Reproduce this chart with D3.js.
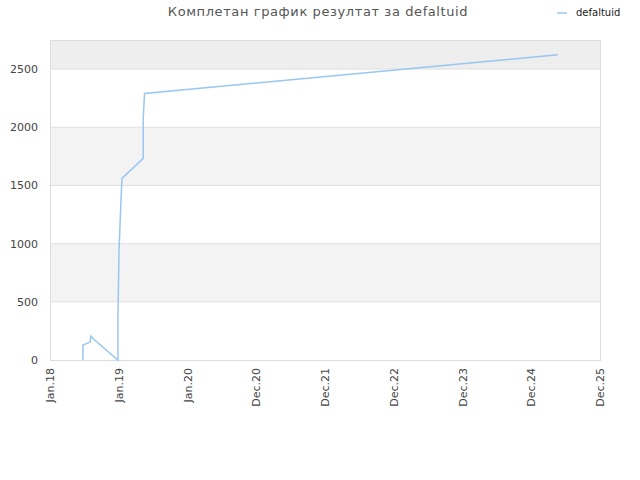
<!DOCTYPE html>
<html>
<head>
<meta charset="utf-8">
<script src="https://cdn.jsdelivr.net/npm/d3@7"></script>
<style>
  body { margin: 0; background: #fff; }
  text { font-family: "DejaVu Sans", sans-serif; }
</style>
</head>
<body>
<div id="chart"></div>
<script>
var title = "Комплетан график резултат за defaltuid",
    seriesName = "defaltuid";

// dates and cumulative result
var dates = ["2018-06-23", "2018-06-23", "2018-07-14", "2018-07-30", "2018-08-04", "2018-08-13",
             "2018-12-24", "2018-12-24", "2018-12-27", "2018-12-30", "2019-01-06", "2019-01-14",
             "2019-05-06", "2019-05-06", "2019-05-13", "2025-04-23"];
var values = [0, 129, 143, 152, 206, 186,
              0, 361, 662, 945, 1246, 1561,
              1733, 2076, 2291, 2623];

var xLabels = ["Jan.18", "Jan.19", "Jan.20", "Dec.20", "Dec.21", "Dec.22", "Dec.23", "Dec.24", "Dec.25"];
var yTicks = [0, 500, 1000, 1500, 2000, 2500];
var yMax = 2750;

var width = 640, height = 480,
    margin = {top: 40, right: 40, bottom: 120, left: 50},
    w = width - margin.left - margin.right,
    h = height - margin.top - margin.bottom;

var parse = d3.timeParse("%Y-%m-%d");
var data = dates.map(function (d, i) {
    return {date: parse(d), value: values[i]};
});

var svg = d3.select("#chart").append("svg")
    .attr("width", width)
    .attr("height", height);

var g = svg.append("g")
    .attr("transform", "translate(" + margin.left + "," + margin.top + ")");

var x = d3.scaleTime()
    .domain([parse("2018-01-01"), parse("2025-12-01")])
    .range([0, w]);

var xi = d3.scaleLinear()
    .domain([0, xLabels.length - 1])
    .range([0, w]);

var y = d3.scaleLinear()
    .domain([0, yMax])
    .range([h, 0]);

// alternating bands
var bands = yTicks.map(function (t, i) {
    return {from: t, to: i < yTicks.length - 1 ? yTicks[i + 1] : yMax, i: i};
});
g.selectAll(".band")
    .data(bands)
    .enter()
    .append("rect")
    .attr("class", "band")
    .attr("x", 0)
    .attr("width", w)
    .attr("y", function (d) { return y(d.to); })
    .attr("height", function (d) { return y(d.from) - y(d.to); })
    .attr("fill", function (d) {
        if (d.i % 2 == 0) return "#ffffff";
        return d.i == bands.length - 1 ? "#eeeeee" : "#f3f3f3";
    });

// grid lines
g.selectAll(".grid")
    .data(yTicks.slice(1))
    .enter()
    .append("line")
    .attr("x1", 0)
    .attr("x2", w)
    .attr("y1", function (d) { return y(d); })
    .attr("y2", function (d) { return y(d); })
    .attr("stroke", "#e0e0e0");

g.append("rect")
    .attr("x", 0.5)
    .attr("y", 0.5)
    .attr("width", w)
    .attr("height", h)
    .attr("fill", "none")
    .attr("stroke", "#dddddd");

// y labels
g.selectAll(".ylab")
    .data(yTicks)
    .enter()
    .append("text")
    .attr("x", -12)
    .attr("y", function (d) { return y(d) + 4; })
    .attr("text-anchor", "end")
    .attr("font-size", "11px")
    .attr("fill", "#444")
    .text(function (d) { return d; });

// x labels, rotated
g.selectAll(".xlab")
    .data(xLabels)
    .enter()
    .append("text")
    .attr("transform", function (d, i) {
        return "translate(" + (xi(i) + 4) + "," + (h + 8) + ") rotate(-90)";
    })
    .attr("text-anchor", "end")
    .attr("font-size", "11px")
    .attr("fill", "#444")
    .text(function (d) { return d; });

var line = d3.line()
    .x(function (d) { return x(d.date); })
    .y(function (d) { return y(d.value); });

g.append("path")
    .datum(data)
    .attr("d", line)
    .attr("fill", "none")
    .attr("stroke", "#99c6f2")
    .attr("stroke-width", 1.5);

// title
svg.append("text")
    .attr("x", 318)
    .attr("y", 16)
    .attr("text-anchor", "middle")
    .attr("font-size", "13px")
    .attr("letter-spacing", "0.6px")
    .attr("fill", "#555")
    .text(title);

// legend
svg.append("line")
    .attr("x1", 557)
    .attr("x2", 567)
    .attr("y1", 13)
    .attr("y2", 13)
    .attr("stroke", "#99c6f2")
    .attr("stroke-width", 1.5);

svg.append("text")
    .attr("x", 576)
    .attr("y", 16)
    .attr("font-size", "10px")
    .attr("fill", "#222")
    .text(seriesName);
</script>
</body>
</html>
